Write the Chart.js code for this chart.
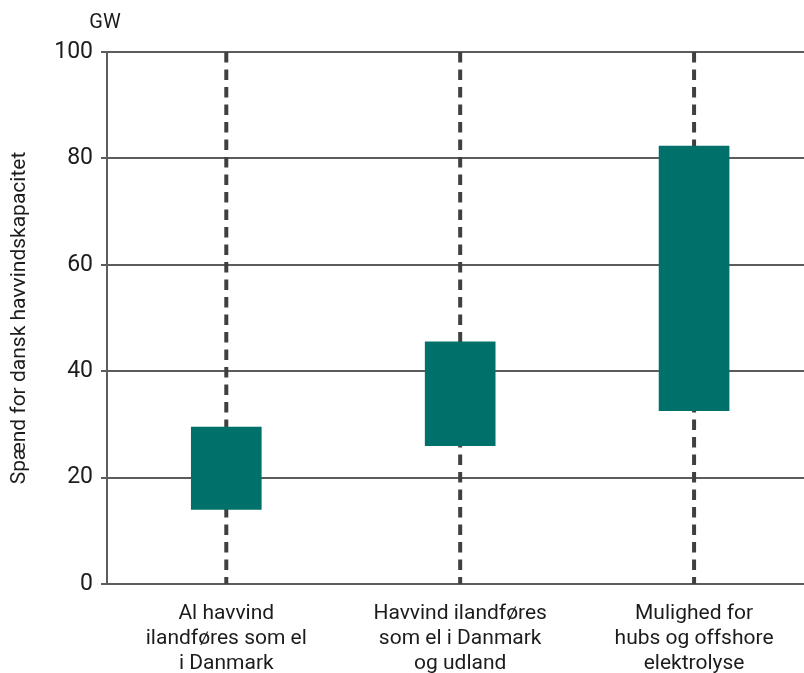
<!DOCTYPE html>
<html>
<head>
<meta charset="utf-8">
<script src="https://cdn.jsdelivr.net/npm/chart.js@4/dist/chart.umd.min.js"></script>
<style>
  html, body { margin: 0; padding: 0; background: #fff; overflow: hidden; }
  #wrap { position: relative; width: 804px; height: 673px; }
</style>
</head>
<body>
<div id="wrap"><canvas id="chart"></canvas></div>
<script>
// Scenario categories (multi-line axis labels)
const categories = [
  ['Al havvind', 'ilandføres som el', 'i Danmark'],
  ['Havvind ilandføres', 'som el i Danmark', 'og udland'],
  ['Mulighed for', 'hubs og offshore', 'elektrolyse']
];
// Low and high end of the capacity range per scenario (GW)
const rangeLow = [14, 26, 32.6];
const rangeHigh = [29.5, 45.5, 82.3];
// Full span marked by the dashed guide lines (GW)
const guideSpan = [0, 100];
// Value axis ticks
const yTicks = [0, 20, 40, 60, 80, 100];

const unitLabel = 'GW';
const yTitle = 'Spænd for dansk havvindskapacitet';

const TEAL = '#00716a';
const GRID = '#5c5c5c';
const DASH = '#404040';
const TEXT = '#1c1c1c';

const barData = categories.map((_, i) => ({ x: i, y: [rangeLow[i], rangeHigh[i]] }));

const guideSets = categories.map((_, i) => ({
  type: 'line',
  data: [{ x: i, y: guideSpan[1] }, { x: i, y: guideSpan[0] }],
  borderColor: DASH,
  borderWidth: 4,
  borderDash: [10.5, 7],
  borderCapStyle: 'butt',
  pointRadius: 0,
  fill: false,
  order: 2
}));

// Unit label drawn above the value axis
const unitPlugin = {
  id: 'unitLabel',
  afterDraw(chart) {
    const { ctx, chartArea } = chart;
    const y = chart.scales.y;
    ctx.save();
    ctx.font = '20px Roboto';
    ctx.fillStyle = TEXT;
    ctx.textAlign = 'center';
    ctx.textBaseline = 'middle';
    ctx.fillText(unitLabel, y.right - 2, chartArea.top - 29);
    ctx.restore();
  }
};

new Chart(document.getElementById('chart'), {
  type: 'bar',
  data: {
    datasets: [
      {
        type: 'bar',
        data: barData,
        backgroundColor: TEAL,
        borderWidth: 0,
        barThickness: 70,
        order: 1
      },
      ...guideSets
    ]
  },
  options: {
    responsive: true,
    maintainAspectRatio: false,
    animation: false,
    events: [],
    layout: { padding: { top: 52, right: 0, bottom: 0, left: 0 } },
    plugins: {
      legend: { display: false },
      tooltip: { enabled: false }
    },
    scales: {
      x: {
        type: 'linear',
        offset: false,
        min: -0.51,
        max: 2.47,
        grid: { display: false, drawTicks: false },
        border: { display: false },
        afterBuildTicks(scale) {
          scale.ticks = categories.map((_, i) => ({ value: i }));
        },
        afterFit(scale) { scale.height = 89; },
        ticks: {
          autoSkip: false,
          maxRotation: 0,
          padding: 17,
          color: TEXT,
          font: { family: 'Roboto', size: 21, lineHeight: 1.19 },
          callback: (v) => categories[v]
        }
      },
      y: {
        min: 0,
        max: 100,
        afterBuildTicks(scale) {
          scale.ticks = yTicks.map(v => ({ value: v }));
        },
        afterFit(scale) { scale.width = 107; },
        grid: {
          color: GRID,
          lineWidth: 2,
          tickLength: 6,
          drawTicks: true
        },
        border: { display: true, color: GRID, width: 2 },
        ticks: {
          padding: 8,
          color: TEXT,
          font: { family: 'Roboto', size: 23 }
        },
        title: {
          display: true,
          text: yTitle,
          color: TEXT,
          font: { family: 'Roboto', size: 21 },
          padding: { top: 7, bottom: 0 }
        }
      }
    }
  },
  plugins: [unitPlugin]
});
</script>
</body>
</html>
